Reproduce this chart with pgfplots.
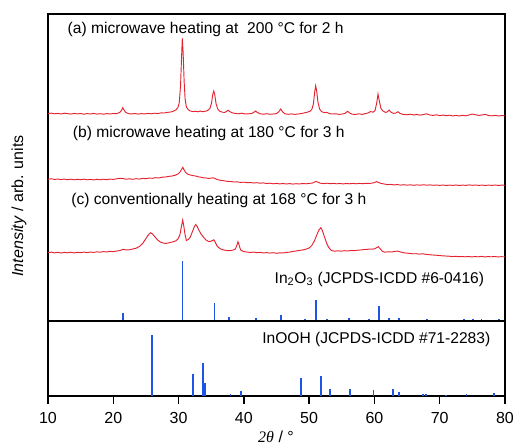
\documentclass[border=0pt]{standalone}
\usepackage{pgfplots}
\pgfplotsset{compat=1.18}
\usepackage{pgfplotstable}
\usepackage{fontspec}
\setmainfont{Liberation Sans}
\newfontfamily\seriffont{Liberation Serif}
\definecolor{xrdred}{RGB}{228,35,48}
\definecolor{stickblue}{RGB}{30,85,228}

% measured traces (2theta, intensity in arb. units)
\pgfplotstableread{
x y
10.0 207.3
10.5 207.9
11.0 207.2
11.5 207.6
12.0 207.0
12.5 207.8
13.0 207.4
13.5 206.9
14.0 207.6
14.5 207.1
15.0 207.5
15.5 206.8
16.0 207.4
16.5 207.0
17.0 207.6
17.5 206.9
18.0 207.3
18.5 206.8
19.0 207.4
19.5 207.0
20.0 207.5
20.5 207.3
21.0 208.6
21.3 211.0
21.45 213.3
21.6 211.5
21.9 208.6
22.3 207.4
22.8 207.0
23.3 207.5
23.8 206.9
24.3 207.4
24.8 207.0
25.3 207.6
25.8 207.2
26.3 207.8
26.8 207.4
27.3 208.1
27.8 208.0
28.3 208.6
28.8 209.0
29.2 209.8
29.6 211.2
29.9 213.5
30.1 218
30.3 235
30.45 262
30.57 282.7
30.7 268
30.85 240
31.0 222
31.2 214
31.5 211.2
31.8 210.0
32.2 209.4
32.6 209.7
33.0 209.2
33.3 210.0
33.6 209.3
34.0 209.6
34.4 210.3
34.8 212.5
35.05 218
35.25 227
35.4 230
35.55 226
35.75 217
36.0 212
36.3 209.8
36.7 208.8
37.1 208.6
37.4 209.8
37.6 210.8
37.8 209.6
38.2 208.2
38.7 207.6
39.2 207.2
39.7 207.8
40.2 207.0
40.7 207.2
41.2 207.5
41.55 208.8
41.8 210.0
42.05 208.6
42.5 207.2
43.0 206.8
43.5 207.3
44.0 206.7
44.5 207.0
45.0 207.4
45.35 209.2
45.65 212.0
45.95 209.0
46.3 207.2
46.8 206.7
47.3 207.1
47.8 206.6
48.3 207.0
48.8 207.4
49.3 208.2
49.7 208.8
50.1 209.6
50.4 211.4
50.65 217
50.85 229
51.0 235.3
51.15 230
51.35 219
51.6 212
51.9 209.4
52.3 208.4
52.7 208.6
53.1 207.4
53.6 207.0
54.1 207.2
54.6 206.6
55.1 207.0
55.5 207.6
55.9 209.7
56.2 208.0
56.6 206.8
57.1 206.5
57.6 207.2
58.1 206.6
58.6 207.4
59.0 208.0
59.4 209.4
59.8 208.8
60.1 210.6
60.35 218
60.55 227
60.75 220
61.0 212.5
61.3 210.0
61.7 208.6
62.0 209.2
62.25 211.0
62.5 209.0
62.9 207.6
63.3 208.0
63.6 209.3
63.9 207.6
64.4 206.6
65.0 206.2
65.5 206.8
66.0 206.0
66.5 206.5
67.0 205.9
67.5 206.4
68.0 207.2
68.5 206.0
69.0 205.6
69.5 206.2
70.0 205.4
70.5 205.9
71.0 205.3
71.5 205.8
72.0 205.1
72.5 205.6
73.0 205.0
73.5 205.7
74.0 205.2
74.5 206.0
75.0 207.0
75.5 206.2
76.0 205.6
76.5 206.1
77.0 206.6
77.5 205.4
78.0 205.2
78.5 205.6
79.0 205.0
79.5 205.4
80.0 205.2
}\traceA

\pgfplotstableread{
x y
10.0 141.7
10.5 142.3
11.0 141.5
11.5 142.0
12.0 141.4
12.5 141.9
13.0 141.3
13.5 141.8
14.0 141.2
14.5 141.7
15.0 141.3
15.5 141.8
16.0 141.2
16.5 141.6
17.0 141.1
17.5 141.7
18.0 141.2
18.5 141.8
19.0 141.3
19.5 141.9
20.0 141.6
20.5 142.2
21.0 142.7
21.5 142.4
22.0 141.8
22.5 142.2
23.0 141.7
23.5 142.3
24.0 141.9
24.5 142.6
25.0 142.3
25.5 142.9
26.0 142.7
26.5 143.3
27.0 143.1
27.5 143.8
28.0 144.0
28.5 144.6
29.0 145.0
29.5 145.8
29.9 147.0
30.2 148.8
30.45 151.5
30.65 153.7
30.85 151.0
31.1 148.5
31.4 146.8
31.8 146.0
32.2 145.4
32.6 145.0
33.0 144.2
33.4 143.8
33.8 143.2
34.2 143.0
34.6 142.6
35.0 142.9
35.3 143.2
35.6 142.4
36.0 141.3
36.5 140.6
37.0 140.2
37.5 139.6
38.0 139.5
38.5 139.0
39.0 139.1
39.5 138.6
40.0 138.8
40.5 138.3
41.0 138.5
41.5 138.0
42.0 138.3
42.5 137.8
43.0 138.1
43.5 137.5
44.0 137.8
44.5 137.2
45.0 137.6
45.5 137.1
46.0 137.5
46.5 137.0
47.0 137.4
47.5 136.9
48.0 137.3
48.5 137.0
49.0 137.5
49.5 137.2
50.0 137.6
50.5 137.9
51.0 139.5
51.3 139.0
51.7 137.8
52.2 137.4
52.7 137.8
53.2 137.3
53.7 137.6
54.2 137.2
54.7 137.5
55.2 137.1
55.7 137.5
56.2 137.2
56.7 137.6
57.2 137.2
57.7 137.6
58.2 137.3
58.7 137.7
59.2 137.5
59.7 138.0
60.0 138.4
60.3 139.4
60.6 138.6
61.0 137.6
61.5 137.0
62.0 136.4
62.5 136.6
63.0 136.1
63.5 136.4
64.0 135.9
64.5 136.3
65.0 135.8
65.5 136.2
66.0 135.7
66.5 136.1
67.0 135.8
67.5 136.2
68.0 135.8
68.5 136.1
69.0 135.7
69.5 136.0
70.0 135.6
70.5 136.0
71.0 135.5
71.5 135.9
72.0 135.6
72.5 136.0
73.0 135.5
73.5 135.9
74.0 135.6
74.5 136.1
75.0 135.7
75.5 136.0
76.0 135.6
76.5 135.9
77.0 135.5
77.5 135.9
78.0 135.6
78.5 136.0
79.0 135.5
79.5 135.9
80.0 135.7
}\traceB

\pgfplotstableread{
x y
10.0 68.3
10.5 68.9
11.0 68.1
11.5 68.7
12.0 68.0
12.5 68.6
13.0 68.2
13.5 68.8
14.0 68.1
14.5 68.7
15.0 68.3
15.5 68.9
16.0 68.4
16.5 69.0
17.0 68.6
17.5 69.2
18.0 68.8
18.5 69.4
19.0 69.0
19.5 69.7
20.0 69.3
20.5 70.0
21.0 70.4
21.5 71.7
22.0 71.0
22.5 71.3
23.0 72.0
23.5 72.8
24.0 74.5
24.5 77.5
24.9 81.5
25.3 85.5
25.7 88.3
26.0 87.0
26.4 84.0
26.8 81.0
27.2 79.0
27.6 78.0
28.0 77.6
28.4 78.0
28.8 78.6
29.2 79.3
29.6 80.2
29.9 82.0
30.2 86.0
30.45 95.0
30.63 101.0
30.8 95.0
31.0 86.0
31.2 80.5
31.5 81.5
31.8 84.0
32.1 89.0
32.4 94.0
32.62 96.5
32.85 94.5
33.1 91.0
33.4 87.5
33.8 84.0
34.2 81.0
34.6 79.5
34.9 79.6
35.2 80.5
35.4 81.2
35.6 79.0
35.9 75.0
36.3 72.5
36.8 71.2
37.3 70.6
37.8 70.3
38.3 70.8
38.7 72.0
38.95 76.0
39.1 79.3
39.25 76.5
39.5 71.0
39.9 69.6
40.4 69.0
41.0 68.5
41.5 68.9
42.0 68.3
42.5 68.7
43.0 68.0
43.5 68.4
44.0 67.9
44.5 68.3
45.0 67.7
45.5 68.2
46.0 68.0
46.5 68.6
47.0 68.8
47.5 69.6
48.0 70.0
48.5 70.6
49.0 71.0
49.5 71.8
50.0 73.0
50.4 75.5
50.8 80.0
51.2 86.5
51.5 91.0
51.8 93.3
52.05 90.0
52.35 84.0
52.7 77.5
53.0 73.5
53.4 70.5
53.9 69.8
54.4 70.2
54.9 69.8
55.4 70.3
55.9 70.0
56.4 70.5
56.9 70.3
57.4 70.8
57.9 71.0
58.4 71.5
58.9 71.6
59.3 72.0
59.7 71.8
60.1 72.4
60.4 73.6
60.6 74.3
60.85 72.5
61.2 69.8
61.6 68.8
62.1 69.2
62.6 69.0
63.1 69.6
63.5 69.9
63.9 69.2
64.4 68.3
64.9 67.9
65.4 67.6
65.9 67.2
66.4 67.3
66.9 66.9
67.4 67.2
67.9 66.7
68.4 66.3
68.9 66.0
69.4 65.8
69.9 65.5
70.4 65.2
70.9 65.0
71.4 64.8
71.9 64.4
72.4 64.7
72.9 64.3
73.4 64.5
73.9 64.2
74.4 64.5
74.9 64.1
75.4 64.4
75.9 64.2
76.4 64.6
76.9 64.1
77.4 64.4
77.9 64.2
78.4 64.5
78.9 64.1
79.4 64.3
80.0 64.2
}\traceC

% reference patterns
\pgfplotstableread{
x y
21.5 7.7
30.6 60.3
33.1 1.0
35.5 17.6
37.7 4.0
39.85 1.0
41.85 2.5
43.8 1.0
45.7 5.6
49.3 1.5
51.0 21.0
52.8 1.8
54.5 1.0
56.05 2.5
57.6 1.0
59.15 2.0
60.7 15.0
62.2 3.0
63.75 3.0
65.3 1.0
66.6 1.0
68.0 1.5
69.4 1.0
73.7 1.5
75.05 2.0
76.4 2.0
77.8 1.0
79.1 1.5
}\inoxide

\pgfplotstableread{
x y
25.9 60.7
32.25 22.3
33.75 32.7
34.1 13.3
37.95 2.0
39.55 5.3
48.75 18.0
51.85 19.7
53.2 6.7
56.2 7.0
59.85 5.7
62.9 7.0
63.7 3.7
67.45 2.0
67.95 2.0
70.95 1.3
74.1 2.0
78.35 3.3
}\inooh

\pgfplotsset{
  panel/.style={
    scale only axis, width=342.75pt,
    xmin=10, xmax=80, ytick=\empty,
    axis line style={line width=1.1pt, black},
    clip=true,
  },
}

\begin{document}
\begin{tikzpicture}
\useasboundingbox (-36pt,-38.25pt) rectangle (350.25pt,297pt);

\begin{axis}[panel, name=top,
    at={(0pt,56.25pt)}, anchor=south west, height=230.25pt,
    ymin=0, ymax=307, xtick=\empty]
\addplot[xrdred, line width=0.7pt] table {\traceA};
\addplot[xrdred, line width=0.7pt] table {\traceB};
\addplot[xrdred, line width=0.7pt] table {\traceC};
\addplot[ycomb, stickblue, line width=1.4pt] table {\inoxide};
\node[anchor=west, font=\fontsize{11.7}{13}\selectfont] at (axis cs:12.3,291.7) {(a) microwave heating at\ \ 200 °C for 2 h};
\node[anchor=west, font=\fontsize{11.7}{13}\selectfont] at (axis cs:13.1,187.7) {(b) microwave heating at 180 °C for 3 h};
\node[anchor=west, font=\fontsize{11.7}{13}\selectfont] at (axis cs:12.86,121) {(c) conventionally heating at 168 °C for 3 h};
\node[anchor=west, font=\fontsize{11.7}{13}\selectfont] at (axis cs:44.0,41.7) {In\textsubscript{2}O\textsubscript{3} (JCPDS-ICDD \#6-0416)};
\end{axis}

\begin{axis}[panel, name=bot,
    at={(0pt,0pt)}, anchor=south west, height=56.25pt,
    ymin=0, ymax=75,
    xtick={10,20,...,80}, xtick pos=bottom, tick align=outside,
    major tick length=6pt,
    tick style={line width=1.1pt, black},
    /pgf/number format/assume math mode=true,
    xticklabel style={font=\fontsize{12}{14}\selectfont, yshift=-3pt}]
\addplot[ycomb, stickblue, line width=1.4pt] table {\inooh};
\node[anchor=west, font=\fontsize{11.7}{13}\selectfont] at (axis cs:42.1,57) {InOOH (JCPDS-ICDD \#71-2283)};
\end{axis}

\node[rotate=90, font=\fontsize{12}{14}\selectfont] at (-21.75pt,142.5pt) {\textit{Intensity} / arb. units};
\node[anchor=north, inner sep=0pt, font=\fontsize{12}{14}\selectfont] at (171pt,-26.3pt) {{\seriffont\itshape 2θ} / °};
\end{tikzpicture}
\end{document}
